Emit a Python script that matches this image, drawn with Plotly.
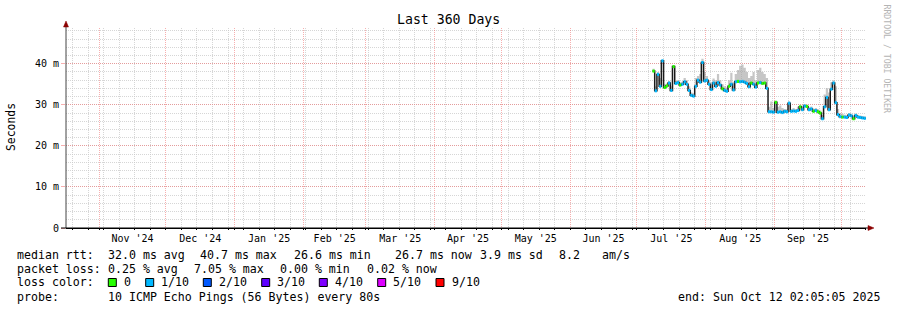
import plotly.graph_objects as go
from datetime import datetime, timedelta

# ---------------- data ----------------
dates = [
    "2025-07-08", "2025-07-09", "2025-07-10", "2025-07-11", "2025-07-12", "2025-07-13",
    "2025-07-14", "2025-07-15", "2025-07-16", "2025-07-17", "2025-07-18", "2025-07-19",
    "2025-07-20", "2025-07-21", "2025-07-22", "2025-07-23", "2025-07-24", "2025-07-25",
    "2025-07-26", "2025-07-27", "2025-07-28", "2025-07-29", "2025-07-30", "2025-07-31",
    "2025-08-01", "2025-08-02", "2025-08-03", "2025-08-04", "2025-08-05", "2025-08-06",
    "2025-08-07", "2025-08-08", "2025-08-09", "2025-08-10", "2025-08-11", "2025-08-12",
    "2025-08-13", "2025-08-14", "2025-08-15", "2025-08-16", "2025-08-17", "2025-08-18",
    "2025-08-19", "2025-08-20", "2025-08-21", "2025-08-22", "2025-08-23", "2025-08-24",
    "2025-08-25", "2025-08-26", "2025-08-27", "2025-08-28", "2025-08-29", "2025-08-30",
    "2025-08-31", "2025-09-01", "2025-09-02", "2025-09-03", "2025-09-04", "2025-09-05",
    "2025-09-06", "2025-09-07", "2025-09-08", "2025-09-09", "2025-09-10", "2025-09-11",
    "2025-09-12", "2025-09-13", "2025-09-14", "2025-09-15", "2025-09-16", "2025-09-17",
    "2025-09-18", "2025-09-19", "2025-09-20", "2025-09-21", "2025-09-22", "2025-09-23",
    "2025-09-24", "2025-09-25", "2025-09-26", "2025-09-27", "2025-09-28", "2025-09-29",
    "2025-09-30", "2025-10-01", "2025-10-02", "2025-10-03", "2025-10-04", "2025-10-05",
    "2025-10-06", "2025-10-07", "2025-10-08", "2025-10-09", "2025-10-10", "2025-10-11",
]
median_ms = [
    38.2, 33.4, 37.4, 34.5, 40.7, 34.2,
    34.6, 35.3, 33.5, 39.3, 35.2, 35.4,
    34.8, 35.0, 35.6, 35.0, 33.5, 32.3,
    32.1, 34.5, 36.0, 35.5, 40.3, 35.8,
    36.0, 35.0, 33.7, 35.3, 34.5, 35.4,
    34.8, 33.9, 33.5, 33.3, 34.5, 35.0,
    33.6, 35.6, 35.7, 35.6, 35.7, 35.5,
    35.2, 34.4, 35.3, 35.0, 34.3, 35.3,
    35.4, 35.2, 35.3, 34.0, 28.3, 28.3,
    28.2, 30.6, 28.2, 28.3, 28.1, 28.4,
    28.3, 30.4, 28.4, 28.5, 28.4, 28.6,
    29.5, 28.8, 29.7, 29.6, 28.8, 29.0,
    28.4, 28.6, 28.3, 28.0, 26.6, 29.5,
    31.8, 28.8, 33.8, 35.3, 30.5, 27.6,
    27.1, 27.0, 27.0, 26.9, 27.5, 27.3,
    26.6, 27.4, 27.0, 26.9, 26.8, 26.7,
]
# packet loss per day, in tenths (0 -> "0", 1 -> "1/10")
loss_tenths = [
    0, 1, 1, 1, 1, 0,
    0, 1, 1, 0, 1, 1,
    0, 1, 1, 1, 1, 1,
    1, 1, 1, 1, 1, 1,
    1, 1, 1, 1, 1, 1,
    1, 0, 1, 1, 0, 1,
    1, 1, 0, 1, 1, 1,
    1, 1, 0, 1, 1, 0,
    1, 0, 0, 1, 1, 1,
    1, 0, 1, 1, 1, 1,
    1, 1, 1, 1, 1, 1,
    0, 1, 1, 0, 1, 1,
    0, 1, 0, 0, 1, 1,
    1, 1, 1, 1, 1, 1,
    1, 0, 1, 1, 1, 1,
    0, 1, 1, 1, 1, 1,
]
smoke_hi_ms = [
    38.8, 34.5, 38.0, 36.5, 41.0, 35.0,
    35.2, 35.8, 34.5, 39.6, 35.8, 36.0,
    35.5, 35.6, 36.5, 36.0, 34.5, 33.0,
    32.8, 36.5, 37.0, 37.5, 41.2, 38.0,
    37.0, 36.0, 35.0, 36.4, 36.0, 37.5,
    36.0, 35.0, 34.5, 34.2, 36.0, 37.8,
    35.5, 37.5, 38.5, 39.5, 39.8, 39.0,
    38.0, 36.5, 37.0, 38.0, 36.0, 38.5,
    39.0, 38.0, 37.5, 36.5, 29.5, 30.8,
    29.2, 31.0, 29.5, 29.8, 29.2, 29.0,
    28.9, 30.8, 29.0, 29.2, 29.0, 29.5,
    30.0, 29.5, 30.2, 30.0, 29.4, 29.6,
    29.0, 29.2, 28.9, 28.6, 27.5, 32.5,
    34.0, 33.0, 35.5, 36.0, 34.5, 29.0,
    28.0, 27.8, 27.6, 27.5, 28.0, 27.8,
    27.2, 27.9, 27.5, 27.4, 27.3, 27.2,
]

loss_labels = ["0", "1/10", "2/10", "3/10", "4/10", "5/10", "9/10"]
loss_colors = ["#26ff00", "#00b8ff", "#0059ff", "#5e00ff", "#7e00ff", "#dd00ff", "#ff0000"]
loss_levels = [0, 1, 2, 3, 4, 5, 9]

x_start = "2024-10-17 02:05:05"
x_end = "2025-10-12 02:05:05"
y_max = 48.7
y_tickvals = [0, 10, 20, 30, 40]
y_ticktext = ["0", "10 m", "20 m", "30 m", "40 m"]

title_text = "Last 360 Days"
y_title = "Seconds"
side_text = "RRDTOOL / TOBI OETIKER"

legend_rows = [
    [("median rtt:", 16), ("32.0 ms avg", 107.3), ("40.7 ms max", 199), ("26.6 ms min", 293.3),
     ("26.7 ms now", 394.3), ("3.9 ms sd", 479.3), ("8.2", 558.3), ("am/s", 600.7)],
    [("packet loss:", 16), ("0.25 % avg", 107.3), ("7.05 % max", 193.3), ("0.00 % min", 279.3),
     ("0.02 % now", 365.7)],
    [("loss color:", 16)],
    [("probe:", 16), ("10 ICMP Echo Pings (56 Bytes) every 80s", 107.3)],
]
legend_row_y = [254.5, 268.5, 282.3, 296.5]
swatch_x = [108.3, 145.7, 203.3, 261.7, 319.3, 377.7, 436.0]
swatch_label_x = [123.3, 160.0, 218.3, 276.0, 334.3, 392.0, 451.0]
end_text = "end: Sun Oct 12 02:05:05 2025"

# ---------------- geometry ----------------
W, H = 897, 310
L, T, PW, PH = 66, 28, 800, 200
FONT = "DejaVu Sans Mono"


def px(x):
    return (x - L) / PW


def py(y):
    return (T + PH - y) / PH


# step x (each day lasts until the next)
t = [datetime.strptime(d, "%Y-%m-%d") for d in dates]
t_step = t + [t[-1] + timedelta(days=1)]
med_step = median_ms + [median_ms[-1]]
hi_step = smoke_hi_ms + [smoke_hi_ms[-1]]

fig = go.Figure()

# smoke
fig.add_trace(go.Scatter(x=t_step, y=med_step, mode="lines", line=dict(width=0, shape="hv"),
                         hoverinfo="skip"))
fig.add_trace(go.Scatter(x=t_step, y=hi_step, mode="lines", line=dict(width=0, shape="hv"),
                         fill="tonexty", fillcolor="rgba(160,160,160,0.6)", hoverinfo="skip"))
# median line
fig.add_trace(go.Scatter(x=t_step, y=med_step, mode="lines",
                         line=dict(color="#1a1a1a", width=1.5, shape="hv"), hoverinfo="skip"))
# loss-coloured median segments
for lvl, col in zip(loss_levels, loss_colors):
    xs, ys = [], []
    for i, (v, l) in enumerate(zip(median_ms, loss_tenths)):
        if l == lvl:
            xs += [t_step[i], t_step[i + 1], None]
            ys += [v, v, None]
    if xs:
        fig.add_trace(go.Scatter(x=xs, y=ys, mode="lines", line=dict(color=col, width=3),
                                 hoverinfo="skip"))

red_grid = "rgba(240,110,110,0.55)"
gray_grid = "rgba(200,200,200,0.75)"

fig.update_xaxes(
    type="date", range=[x_start, x_end], fixedrange=True,
    dtick="M1", tick0="2024-11-01", tickformat="%b '%y", ticklabelmode="period",
    showgrid=True, gridcolor=red_grid, griddash="1px,1px", gridwidth=1,
    ticks="outside", ticklen=1, tickcolor="#000", tickwidth=1,
    showline=True, linecolor="#000", linewidth=1, zeroline=False,
    tickfont=dict(family=FONT, size=10, color="#000"),
    minor=dict(dtick=7 * 86400000, tick0="2024-10-20", showgrid=True, gridcolor=gray_grid,
               griddash="1px,1px", ticks="outside", ticklen=1, tickcolor="#000"),
)
fig.update_yaxes(
    range=[0, y_max], fixedrange=True,
    tickmode="array", tickvals=y_tickvals, ticktext=y_ticktext,
    showgrid=True, gridcolor=red_grid, griddash="1px,1px", gridwidth=1,
    ticks="outside", ticklen=4, tickcolor=red_grid, zeroline=False, showline=False,
    tickfont=dict(family=FONT, size=10, color="#000"),
    minor=dict(dtick=2, tick0=0, showgrid=True, gridcolor=gray_grid, griddash="1px,1px"),
)

shapes = [
    # y axis line with arrow
    dict(type="line", xref="paper", yref="paper", x0=px(66), x1=px(66), y0=py(228), y1=py(25),
         line=dict(color="#444", width=1)),
    dict(type="path", xref="paper", yref="paper",
         path=f"M {px(63.5)} {py(27)} L {px(68.5)} {py(27)} L {px(66)} {py(21)} Z",
         fillcolor="#8b0000", line=dict(color="#8b0000", width=0.5)),
    # x axis extension and arrow
    dict(type="line", xref="paper", yref="paper", x0=px(61), x1=px(869), y0=py(228), y1=py(228),
         line=dict(color="#000", width=1)),
    dict(type="path", xref="paper", yref="paper",
         path=f"M {px(868)} {py(225.5)} L {px(868)} {py(230.5)} L {px(874)} {py(228)} Z",
         fillcolor="#8b0000", line=dict(color="#8b0000", width=0.5)),
]
# small tick marks under the x axis at the week / month grid lines are drawn by the axis
for sx, col in zip(swatch_x, loss_colors):
    shapes.append(dict(type="rect", xref="paper", yref="paper",
                       x0=px(sx), x1=px(sx + 8), y0=py(286.5), y1=py(278.5),
                       fillcolor=col, line=dict(color="#000", width=1)))

annotations = [
    dict(text=title_text, xref="paper", yref="paper", x=px(448), y=py(19.5), showarrow=False,
         xanchor="center", yanchor="middle", font=dict(family=FONT, size=13.2, color="#000")),
    dict(text=y_title, xref="paper", yref="paper", x=px(11), y=py(127), showarrow=False,
         textangle=-90, xanchor="center", yanchor="middle",
         font=dict(family=FONT, size=11.4, color="#000")),
    dict(text=side_text, xref="paper", yref="paper", x=px(886), y=py(59.5), showarrow=False,
         textangle=90, xanchor="center", yanchor="middle",
         font=dict(family=FONT, size=8.2, color="#b4b4b4")),
    dict(text=end_text, xref="paper", yref="paper", x=px(881), y=py(legend_row_y[3]),
         showarrow=False, xanchor="right", yanchor="middle", borderpad=0,
         font=dict(family=FONT, size=11.6, color="#000")),
]
for row, yy in zip(legend_rows, legend_row_y):
    for txt, xx in row:
        annotations.append(dict(text=txt, xref="paper", yref="paper", x=px(xx), y=py(yy),
                                showarrow=False, xanchor="left", yanchor="middle", borderpad=0,
                                font=dict(family=FONT, size=11.6, color="#000")))
for lx, lab in zip(swatch_label_x, loss_labels):
    annotations.append(dict(text=lab, xref="paper", yref="paper", x=px(lx), y=py(legend_row_y[2]),
                            showarrow=False, xanchor="left", yanchor="middle", borderpad=0,
                            font=dict(family=FONT, size=11.6, color="#000")))

fig.update_layout(
    width=W, height=H, margin=dict(l=L, r=W - L - PW, t=T, b=H - T - PH, pad=0),
    paper_bgcolor="#fff", plot_bgcolor="#fff", showlegend=False,
    shapes=shapes, annotations=annotations,
)

fig.write_html("out.html", config={"displayModeBar": False})
